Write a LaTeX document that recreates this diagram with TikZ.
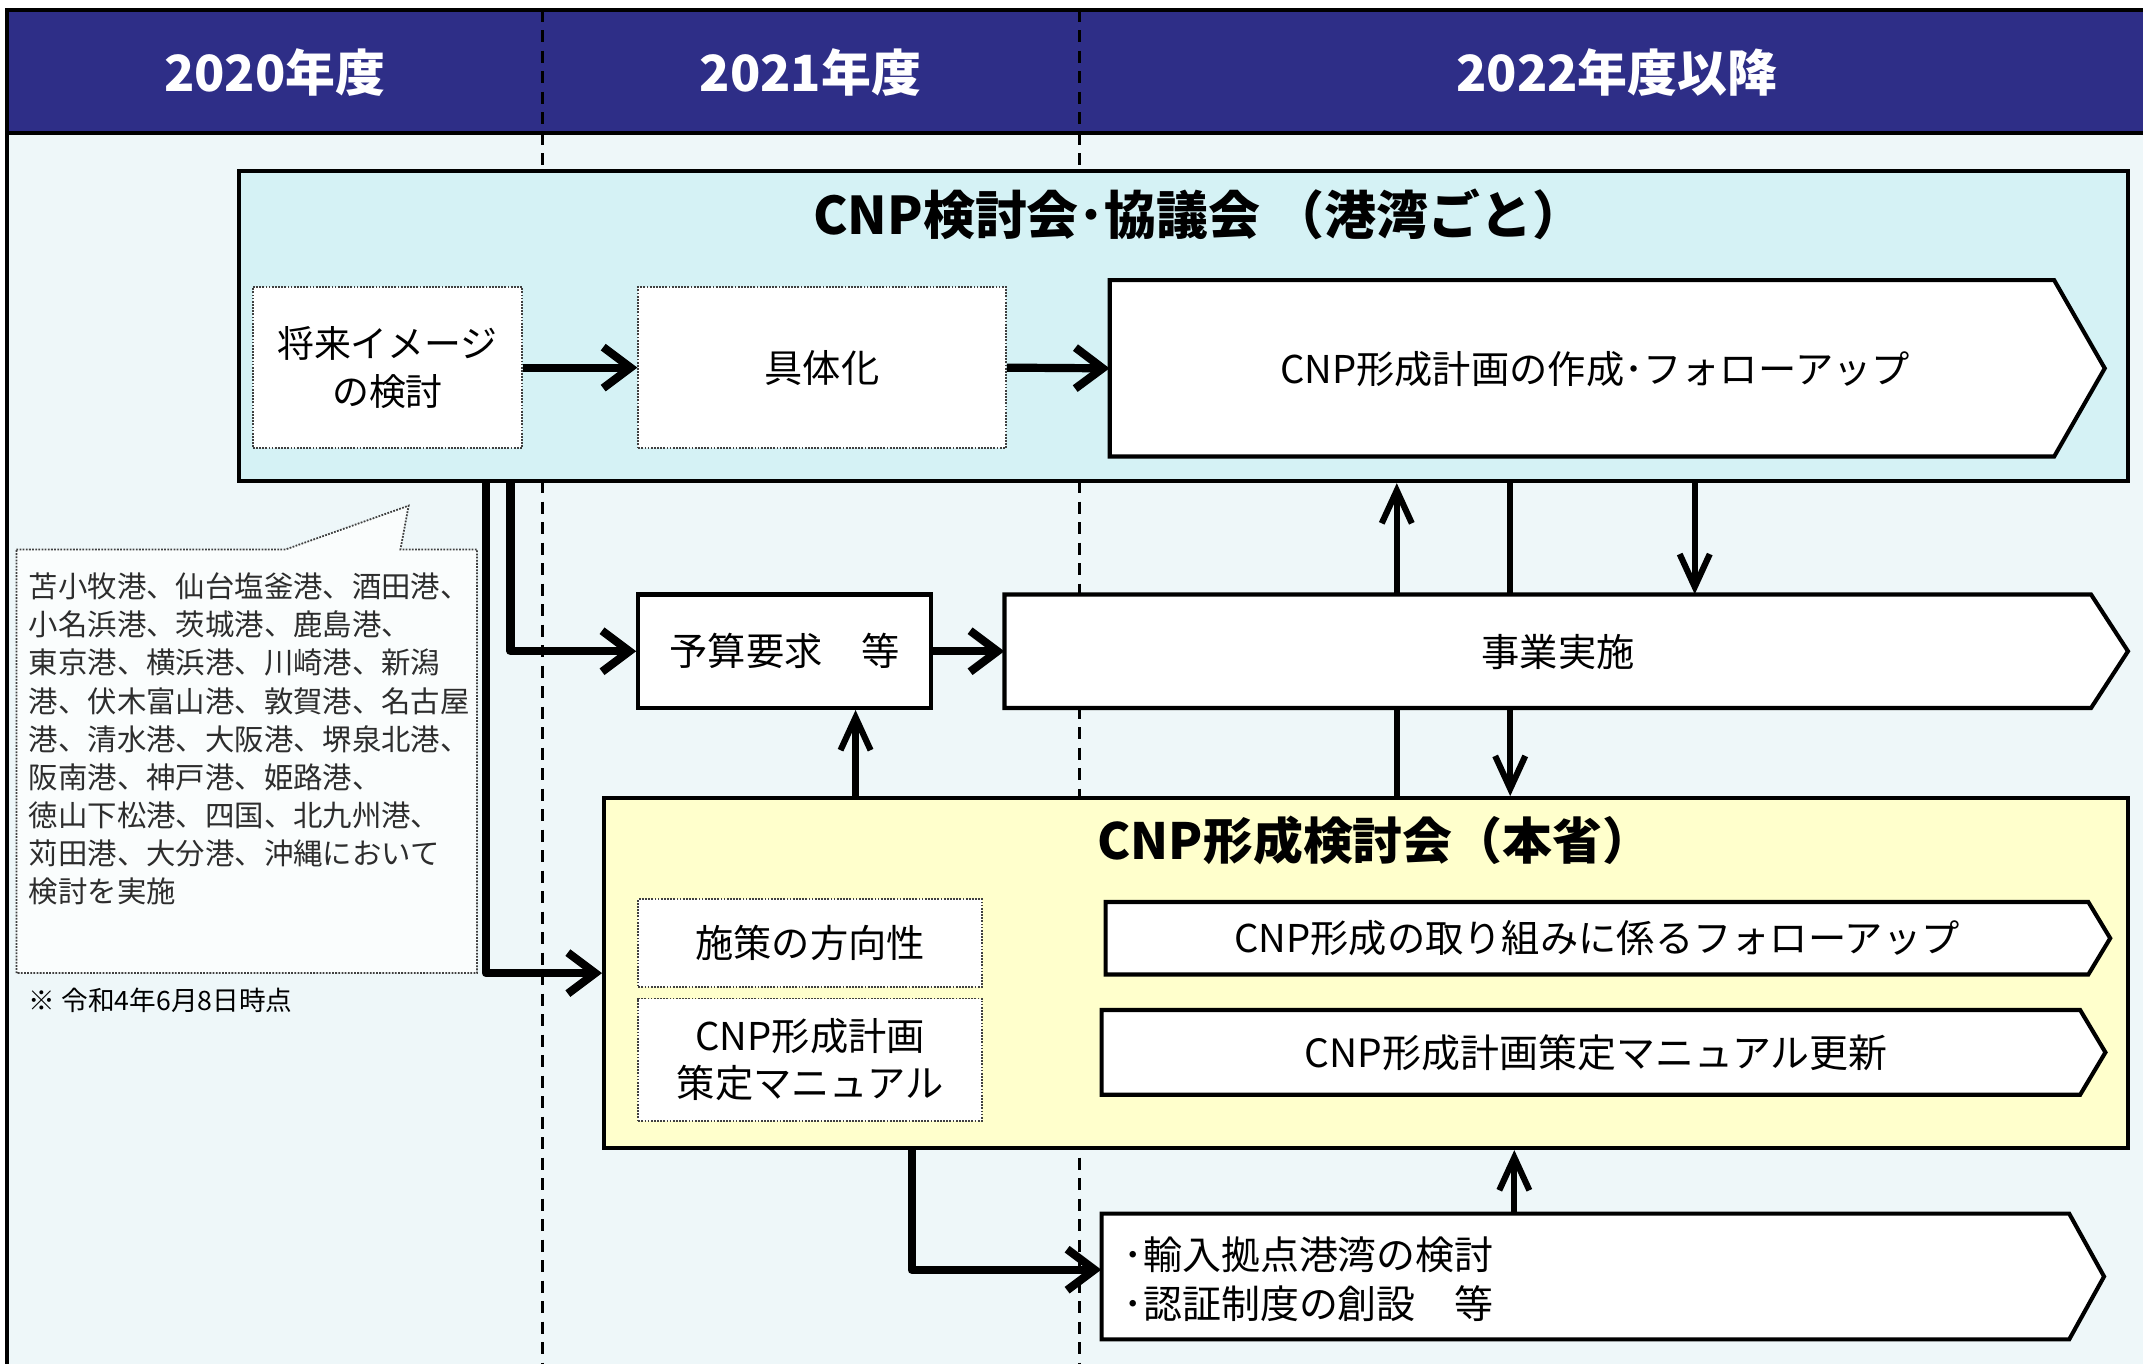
\documentclass[tikz,border=0pt]{standalone}
\usepackage{fontspec}
\setmainfont{Noto Sans CJK JP}
\usetikzlibrary{arrows.meta,calc}
\definecolor{navy}{RGB}{46,46,135}
\definecolor{bodybg}{RGB}{238,247,249}
\definecolor{cyanbox}{RGB}{213,242,245}
\definecolor{yelbox}{RGB}{255,255,204}
\definecolor{calloutbg}{RGB}{250,253,253}
\definecolor{txtgray}{RGB}{45,45,45}
\tikzset{
  hdrtxt/.style={text=white,inner sep=0,font=\fontsize{36.5}{40}\selectfont\bfseries},
  titletxt/.style={inner sep=0,font=\fontsize{36.5}{40}\selectfont\bfseries},
  bigbox/.style={draw=black,line width=3pt,inner sep=0},
  dotbox/.style={draw=black!75,densely dotted,line width=1.3pt,fill=white,inner sep=0,align=center,font=\fontsize{28}{35}\selectfont},
  solidbox/.style={draw=black,line width=3pt,fill=white,inner sep=0,align=center,font=\fontsize{28}{35}\selectfont},
  pentshape/.style={draw=black,line width=3pt,fill=white,line join=miter},
  penttxt/.style={inner sep=0,align=center,font=\fontsize{28}{35}\selectfont},
  arrH/.style={line width=6pt,line join=round,-{Straight Barb[length=20pt,width=30pt]}},
  arrV/.style={line width=4.5pt,-{Straight Barb[length=24pt,width=22pt]}},
  lineV/.style={line width=4.5pt},
  yeardash/.style={line width=2.2pt,dash pattern=on 9pt off 6pt},
}
\begin{document}
\begin{tikzpicture}[x=1pt,y=-1pt]
\useasboundingbox (0,0) rectangle (1568,998);
\clip (0,0) rectangle (1568,998);
\fill[white] (0,0) rectangle (1568,998);
% body and header
\draw[fill=bodybg,line width=3pt] (5,7) rectangle (1590,1020);
\draw[fill=navy,line width=3pt] (5,7) rectangle (1590,97);
\draw[yeardash] (397,7) -- (397,998);
\draw[yeardash] (790,7) -- (790,998);
\node[hdrtxt] (y2020) at (201,53) {2020年度};
\node[hdrtxt] (y2021) at (593,53) {2021年度};
\node[hdrtxt] (y2022) at (1183,53) {2022年度以降};

% helper coordinates
\coordinate (xa) at (1022,0);
\coordinate (xb) at (1105,0);
\coordinate (xc) at (1240,0);
\coordinate (xd) at (626,0);
\coordinate (xe) at (667,0);
\coordinate (xf) at (1108,0);
\coordinate (yl) at (0,712);
\coordinate (yz) at (0,929);

% blue box
\node[bigbox,fill=cyanbox,minimum width=1382pt,minimum height=227pt] (cnp) at (866,238.5) {};
\node[titletxt,font=\fontsize{38}{40}\selectfont\bfseries] (cnptitle) at (877,157) {CNP検討会･協議会 （港湾ごと）};
\node[dotbox,minimum width=197pt,minimum height=118pt,font=\fontsize{27}{35}\selectfont] (img) at (283.5,269) {将来イメージ\\の検討};
\node[dotbox,minimum width=269pt,minimum height=118pt] (gut) at (601.5,269) {具体化};
\draw[pentshape] (812,205) -- (1503,205) -- (1540,269.5) -- (1503,334) -- (812,334) -- cycle;
\node[inner sep=0,minimum width=691pt,minimum height=129pt] (plan) at (1157.5,269.5) {};
\node[penttxt] (plantxt) at (1167,270) {CNP形成計画の作成･フォローアップ};

% callout
\draw[fill=calloutbg,draw=black!75,densely dotted,line width=1.3pt]
  (12,402) -- (209,402) -- (299,370) -- (293,402) -- (349,402) -- (349,712) -- (12,712) -- cycle;
\node[anchor=north west,inner sep=0,align=left,text=txtgray,font=\fontsize{21.5}{27.9}\selectfont] (callout) at (21,419)
{苫小牧港、仙台塩釜港、酒田港、\\
小名浜港、茨城港、鹿島港、\\
東京港、横浜港、川崎港、新潟\\
港、伏木富山港、敦賀港、名古屋\\
港、清水港、大阪港、堺泉北港、\\
阪南港、神戸港、姫路港、\\
徳山下松港、四国、北九州港、\\
苅田港、大分港、沖縄において\\
検討を実施};
\node[anchor=west,inner sep=0,font=\fontsize{19.5}{22}\selectfont] (note) at (21,732) {※ 令和4年6月8日時点};

% middle row
\node[solidbox,minimum width=214pt,minimum height=83pt] (budget) at (574,476.5) {予算要求　等};
\draw[pentshape] (735,435) -- (1530,435) -- (1557,476.5) -- (1530,518) -- (735,518) -- cycle;
\node[inner sep=0,minimum width=795pt,minimum height=83pt] (jigyo) at (1132.5,476.5) {};
\node[penttxt] (jigyotxt) at (1140,477) {事業実施};

% yellow box
\node[bigbox,fill=yelbox,minimum width=1115pt,minimum height=256pt] (honsho) at (999.5,712) {};
\node[titletxt] (honshotitle) at (1006,615) {CNP形成検討会（本省）};
\node[dotbox,minimum width=251.5pt,minimum height=64.5pt] (policy) at (592.75,690) {施策の方向性};
\node[dotbox,minimum width=251.5pt,minimum height=89.3pt] (manual) at (592.75,775.3) {CNP形成計画\\策定マニュアル};
\draw[pentshape] (809,660) -- (1528,660) -- (1544,686.5) -- (1528,713) -- (809,713) -- cycle;
\node[penttxt,minimum width=719pt,minimum height=53pt] (follow) at (1168.5,686.5) {CNP形成の取り組みに係るフォローアップ};
\draw[pentshape] (806,739) -- (1522,739) -- (1540.5,770) -- (1522,801) -- (806,801) -- cycle;
\node[penttxt,minimum width=716pt,minimum height=62pt,font=\fontsize{28.5}{35}\selectfont] (update) at (1168,770) {CNP形成計画策定マニュアル更新};

% bottom
\draw[pentshape] (806,888) -- (1514,888) -- (1539.5,934) -- (1514,980) -- (806,980) -- cycle;
\node[inner sep=0,minimum width=708pt,minimum height=92pt] (bottom) at (1160,934) {};
\node[anchor=west,inner sep=0,align=left,font=\fontsize{28.5}{36}\selectfont] (bottomtxt) at (822,936) {･輸入拠点港湾の検討\\･認証制度の創設　等};

% connectors
\draw[arrH] (img.east) -- (gut.west);
\draw[arrH] (gut.east) -- (plan.west);
\draw[arrH] ([xshift=182pt]cnp.south west) |- (honsho.west |- yl);
\draw[arrH] ([xshift=200pt]cnp.south west) |- (budget.west);
\draw[arrH] (budget.east) -- (jigyo.west);
\draw[arrV] (honsho.north -| xd) -- (budget.south -| xd);
\draw[lineV] (honsho.north -| xa) -- (jigyo.south -| xa);
\draw[arrV] (jigyo.north -| xa) -- (cnp.south -| xa);
\draw[lineV] (cnp.south -| xb) -- (jigyo.north -| xb);
\draw[arrV] (jigyo.south -| xb) -- (honsho.north -| xb);
\draw[arrV] (cnp.south -| xc) -- (jigyo.north -| xc);
\draw[arrH] (honsho.south -| xe) |- (bottom.west |- yz);
\draw[arrV] (bottom.north -| xf) -- (honsho.south -| xf);
\end{tikzpicture}
\end{document}
